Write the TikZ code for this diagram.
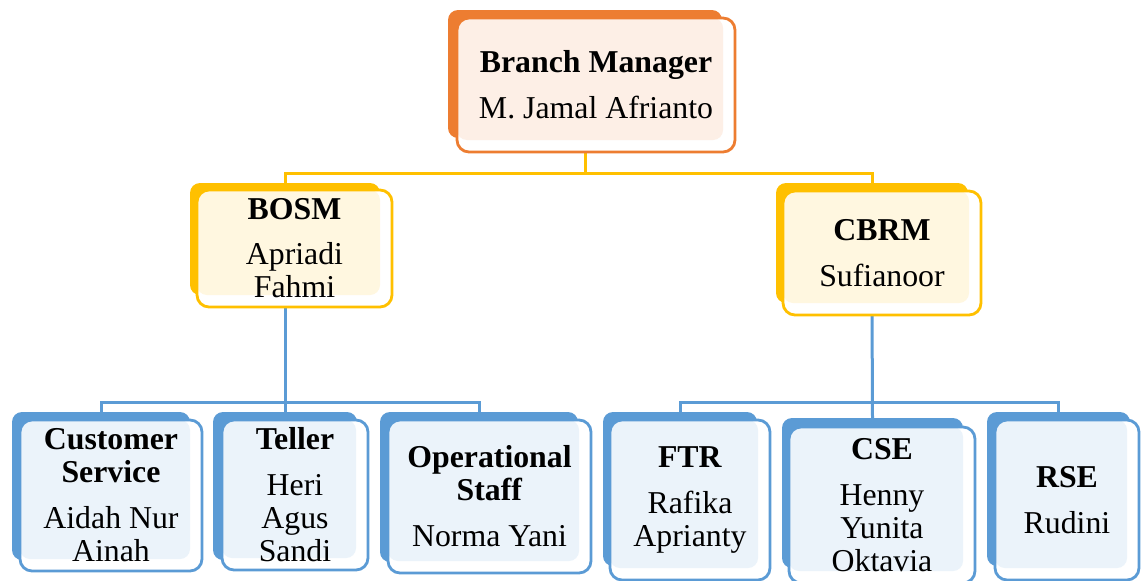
\documentclass[tikz,border=0pt]{standalone}
\usepackage{fontspec}
\setmainfont{Liberation Serif}
\definecolor{mgrorange}{HTML}{ED7D31}
\definecolor{headyellow}{HTML}{FFC000}
\definecolor{staffblue}{HTML}{5B9BD5}
\begin{document}
\begin{tikzpicture}[x=1pt, y=-1pt,
  back/.style = {rectangle, rounded corners=10pt, fill=#1, inner sep=0pt},
  card/.style = {rectangle, rounded corners=12pt, draw=#1, line width=2.8pt, fill=white,
    inner sep=0pt, align=center, font=\fontsize{31.8}{33}\selectfont,
    path picture={%
      \fill[#1!12, rounded corners=10pt] (path picture bounding box.north west)
        rectangle ([xshift=-12pt,yshift=12pt]path picture bounding box.south east);
    }
  },
  link/.style = {draw=#1, line width=3pt}
]
        \useasboundingbox (0,0) rectangle (1141,581);
        % back plates
        \node[back=mgrorange, minimum width=274pt, minimum height=128pt] (bm) at (585,74) {};
        \node[back=headyellow, minimum width=190pt, minimum height=112pt] (bosm) at (285,239) {};
        \node[back=headyellow, minimum width=192pt, minimum height=120pt] (cbrm) at (872,243) {};
        \node[back=staffblue, minimum width=178pt, minimum height=148pt] (cs) at (101,486) {};
        \node[back=staffblue, minimum width=144pt, minimum height=148pt] (teller) at (285,486) {};
        \node[back=staffblue, minimum width=198pt, minimum height=150pt] (ops) at (479,487) {};
        \node[back=staffblue, minimum width=154pt, minimum height=154pt] (ftr) at (680,489) {};
        \node[back=staffblue, minimum width=181pt, minimum height=150pt] (cse) at (872.5,493) {};
        \node[back=staffblue, minimum width=143pt, minimum height=154pt] (rse) at (1058.5,489) {};
        % connectors
        \coordinate (bus1) at (585,173);
        \coordinate (bus2) at (285,402);
        \coordinate (bus3) at (872,402);
        \draw[link=headyellow] (bm.south) -- (bus1);
        \draw[link=headyellow] (bosm.north) |- (bus1) -| (cbrm.north);
        \draw[link=staffblue] (bosm.south) -- (teller.north);
        \draw[link=staffblue] (cs.north) |- (bus2) -| (ops.north);
        \draw[link=staffblue] (cbrm.south) -- (cse.north);
        \draw[link=staffblue] (ftr.north) |- (bus3) -| (rse.north);
        % cards
        \node[card=mgrorange, minimum width=278pt, minimum height=134pt] (bmcard) at (596,85)
            {\textbf{Branch Manager}\\[13pt] M. Jamal Afrianto};
        \node[card=headyellow, minimum width=195pt, minimum height=117pt] (bosmcard) at (294.5,248.5)
            {\textbf{BOSM}\\[12pt] Apriadi\\ Fahmi};
        \node[card=headyellow, minimum width=198pt, minimum height=124pt] (cbrmcard) at (882,253)
            {\textbf{CBRM}\\[13pt] Sufianoor};
        \node[card=staffblue, minimum width=182pt, minimum height=151pt] (cscard) at (111,495.5)
            {\textbf{Customer}\\ \textbf{Service}\\[13pt] Aidah Nur\\ Ainah};
        \node[card=staffblue, minimum width=146pt, minimum height=150pt] (tellercard) at (295,495)
            {\textbf{Teller}\\[13pt] Heri\\ Agus\\ Sandi};
        \node[card=staffblue, minimum width=203pt, minimum height=153pt] (opscard) at (489.5,496.5)
            {\textbf{Operational}\\ \textbf{Staff}\\[13pt] Norma Yani};
        \node[card=staffblue, minimum width=160pt, minimum height=160pt] (ftrcard) at (690,500)
            {\textbf{FTR}\\[13pt] Rafika\\ Aprianty};
        \node[card=staffblue, minimum width=186pt, minimum height=156pt] (csecard) at (882,505)
            {\textbf{CSE}\\[13pt] Henny\\ Yunita\\ Oktavia};
        \node[card=staffblue, minimum width=144pt, minimum height=160pt] (rsecard) at (1067,500)
            {\textbf{RSE}\\[13pt] Rudini};
\end{tikzpicture}
\end{document}
